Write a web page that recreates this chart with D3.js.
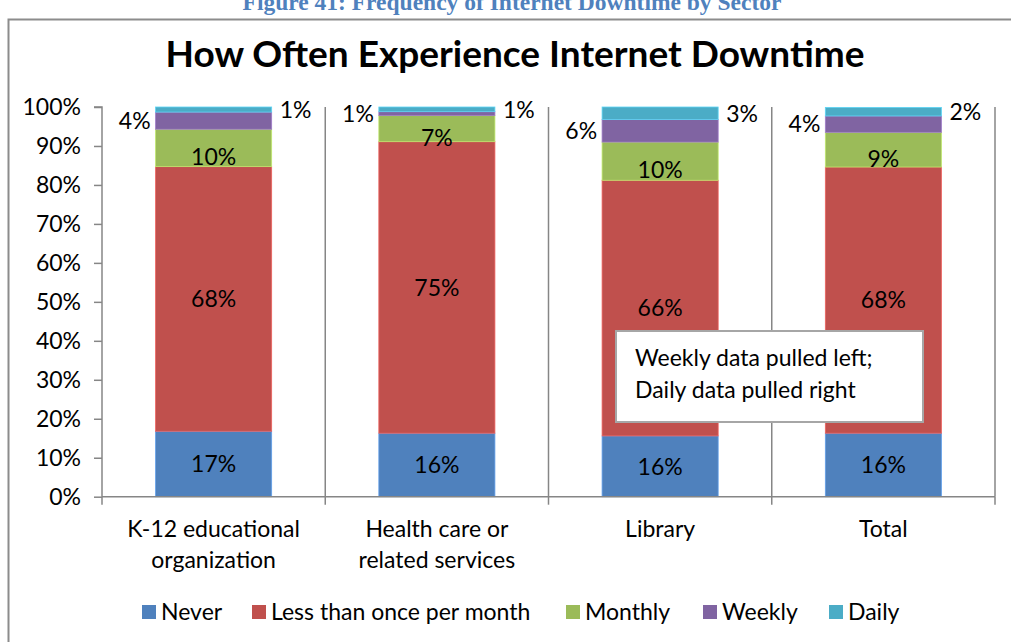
<!DOCTYPE html>
<html>
<head>
<meta charset="utf-8">
<script src="https://cdn.jsdelivr.net/npm/d3@7"></script>
<style>
  html, body { margin: 0; padding: 0; background: #fff; }
  svg { display: block; }
  text { font-family: Lato, "Open Sans", sans-serif; }
</style>
</head>
<body>
<svg id="chart" width="1011" height="642"></svg>
<script>
// ---- data ----
const categories = ["K-12 educational organization", "Health care or related services", "Library", "Total"];
const categoryLines = [["K-12 educational", "organization"], ["Health care or", "related services"], ["Library"], ["Total"]];
const seriesNames = ["Never", "Less than once per month", "Monthly", "Weekly", "Daily"];
const never   = [16.8, 16.3, 15.6, 16.3];
const lessThanMonthly = [67.9, 74.8, 65.6, 68.3];
const monthly = [9.6, 6.7, 9.8, 8.9];
const weekly  = [4.4, 1.0, 5.8, 4.2];
const daily   = [1.3, 1.2, 3.2, 2.2];
const yTicks = [0, 10, 20, 30, 40, 50, 60, 70, 80, 90, 100];
const titleText = "How Often Experience Internet Downtime";
const captionText = "Figure 41: Frequency of Internet Downtime by Sector";
const noteLines = ["Weekly data pulled left;", "Daily data pulled right"];

const colors = ["#4f81bd", "#c0504d", "#9bbb59", "#8064a2", "#4bacc6"];
const seriesValues = [never, lessThanMonthly, monthly, weekly, daily];

const rows = categories.map((c, i) => {
  const r = { category: c };
  seriesNames.forEach((s, j) => r[s] = seriesValues[j][i]);
  return r;
});

const svg = d3.select("#chart");
const W = 1011, H = 642;
const plotLeft = 102, plotRight = 995, plotTop = 107, plotBottom = 496.7;
const axisColor = "#868686";
const fs = "23px";

// caption (cut at top, as in the source page)
svg.append("text")
  .attr("x", 512).attr("y", 10)
  .attr("text-anchor", "middle")
  .style("font-family", "'Liberation Serif', 'DejaVu Serif', serif")
  .style("font-weight", "bold")
  .style("font-size", "23.5px")
  .attr("fill", "#4f81bd")
  .text(captionText);

// chart frame
svg.append("rect")
  .attr("x", 8.5).attr("y", 19.5)
  .attr("width", W + 10).attr("height", H + 10)
  .attr("fill", "none")
  .attr("stroke", "#8c8c8c")
  .attr("stroke-width", 2);

// title
svg.append("text")
  .attr("x", 515).attr("y", 67)
  .attr("text-anchor", "middle")
  .style("font-weight", "bold")
  .style("font-size", "37px")
  .attr("fill", "#000")
  .text(titleText);

const x = d3.scaleBand().domain(categories).range([plotLeft, plotRight]).paddingInner(0).paddingOuter(0);
const barW = x.bandwidth() * 0.52;
const y = d3.scaleLinear().domain([0, 100]).range([plotBottom, plotTop]);

const stacked = d3.stack().keys(seriesNames)(rows);

// vertical gridlines at category boundaries
const boundaries = categories.slice(1).map(c => x(c)).concat([plotRight]);
svg.append("g").selectAll("line").data(boundaries).join("line")
  .attr("x1", d => d).attr("x2", d => d)
  .attr("y1", plotTop).attr("y2", plotBottom)
  .attr("stroke", axisColor).attr("stroke-width", 1.5);

// bars
const gBars = svg.append("g");
stacked.forEach((layer, j) => {
  gBars.append("g").attr("fill", colors[j]).selectAll("rect").data(layer).join("rect")
    .attr("x", d => x(d.data.category) + (x.bandwidth() - barW) / 2)
    .attr("width", barW)
    .attr("y", d => y(d[1]))
    .attr("height", d => y(d[0]) - y(d[1]))
    .attr("stroke", d3.color(colors[j]).brighter(0.6))
    .attr("stroke-width", 0.8);
});

// y axis
const yAxis = d3.axisLeft(y).tickValues(yTicks).tickFormat(d => d + "%").tickSize(8).tickPadding(13);
const gy = svg.append("g").attr("transform", `translate(${plotLeft},0)`).call(yAxis);
gy.select(".domain").attr("stroke", axisColor).attr("stroke-width", 1.5).attr("d", `M-8,${plotTop}H0V${plotBottom}`);
gy.selectAll(".tick line").attr("stroke", axisColor).attr("stroke-width", 1.5);
gy.selectAll(".tick text").style("font-family", "Lato, sans-serif").style("font-size", fs).attr("fill", "#000");

// x axis
svg.append("line").attr("x1", plotLeft).attr("x2", plotRight).attr("y1", plotBottom).attr("y2", plotBottom)
  .attr("stroke", axisColor).attr("stroke-width", 1.5);
const tickXs = [plotLeft].concat(boundaries);
svg.append("g").selectAll("line").data(tickXs).join("line")
  .attr("x1", d => d).attr("x2", d => d).attr("y1", plotBottom).attr("y2", plotBottom + 8)
  .attr("stroke", axisColor).attr("stroke-width", 1.5);

// category labels
const gCat = svg.append("g");
categories.forEach((c, i) => {
  const t = gCat.append("text")
    .attr("x", x(c) + x.bandwidth() / 2)
    .attr("y", 537)
    .attr("text-anchor", "middle")
    .style("font-size", fs)
    .attr("fill", "#000");
  categoryLines[i].forEach((line, k) => {
    t.append("tspan").attr("x", x(c) + x.bandwidth() / 2).attr("dy", k === 0 ? 0 : 31).text(line);
  });
});

// data labels
const gLab = svg.append("g").style("font-size", fs).attr("fill", "#000");
stacked.forEach((layer, j) => {
  layer.forEach(d => {
    const cx = x(d.data.category) + x.bandwidth() / 2;
    const cy = (y(d[0]) + y(d[1])) / 2;
    const label = Math.round(d[1] - d[0]) + "%";
    let tx = cx, ty = cy, anchor = "middle";
    if (j === 2) { ty = cy + 9; }
    if (j === 3) { tx = cx - barW / 2 - 5; anchor = "end"; }
    if (j === 4) { tx = cx + barW / 2 + 8; anchor = "start"; }
    gLab.append("text")
      .attr("x", tx).attr("y", ty).attr("dy", "0.36em")
      .attr("text-anchor", anchor)
      .text(label);
  });
});

// note box
svg.append("rect")
  .attr("x", 616).attr("y", 331).attr("width", 307).attr("height", 91)
  .attr("fill", "#fff").attr("stroke", "#a6a6a6").attr("stroke-width", 2);
const note = svg.append("text").attr("x", 635).attr("y", 358)
  .style("font-size", fs).attr("fill", "#000");
noteLines.forEach((l, k) => note.append("tspan").attr("x", 635).attr("dy", k === 0 ? "0.36em" : 32).text(l));

// legend
const legendItems = [
  { name: seriesNames[0], sx: 142 },
  { name: seriesNames[1], sx: 252 },
  { name: seriesNames[2], sx: 566 },
  { name: seriesNames[3], sx: 703 },
  { name: seriesNames[4], sx: 829 }
];
const gLeg = svg.append("g");
legendItems.forEach((it, i) => {
  gLeg.append("rect").attr("x", it.sx).attr("y", 605).attr("width", 14).attr("height", 14).attr("fill", colors[i]);
  gLeg.append("text").attr("x", it.sx + 19).attr("y", 612).attr("dy", "0.36em")
    .style("font-size", fs).attr("fill", "#000").text(it.name);
});
</script>
</body>
</html>
